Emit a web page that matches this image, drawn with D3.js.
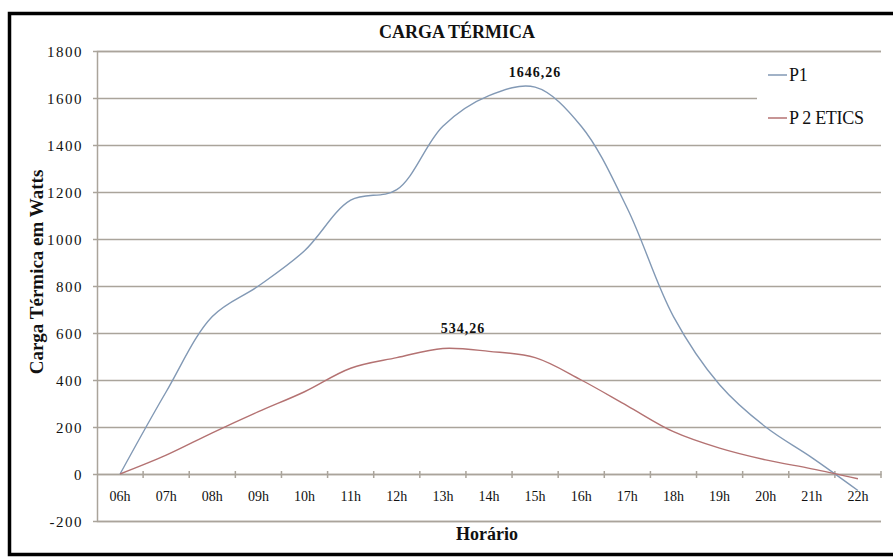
<!DOCTYPE html>
<html>
<head>
<meta charset="utf-8">
<script src="https://cdn.jsdelivr.net/npm/d3@7"></script>
<style>
  body { margin: 0; background: #fff; }
  svg text { font-family: "Liberation Serif", "Times New Roman", serif !important; fill: #111; }
</style>
</head>
<body>
<div id="chart"></div>
<script>
"use strict";

// categories (hours) and series values
const hours = ['06h', '07h', '08h', '09h', '10h', '11h', '12h', '13h', '14h',
  '15h', '16h', '17h', '18h', '19h', '20h', '21h', '22h'];

const p1Values = [0, 350, 670, 800, 950, 1165, 1210, 1480, 1610,
  1646.26, 1480, 1130, 670, 380, 200, 70, -70];

const p2Values = [0, 80, 175, 265, 350, 450, 495, 534.26, 522,
  495, 400, 290, 180, 110, 60, 22, -20];

const yTicks = [-200, 0, 200, 400, 600, 800, 1000, 1200, 1400, 1600, 1800];

const seriesNames = ['P1', 'P 2 ETICS'];
const seriesColors = ['#8299b5', '#b47272'];

const width = 893
    , height = 559
    , GRID = '#aaa49b'
    , SERIF = '"Liberation Serif", "Times New Roman", serif'

const svg = d3.select('#chart').append('svg')
    .attr('width', width)
    .attr('height', height)
    .attr('font-family', SERIF)

// outer frame
svg.append('rect')
  .attr('x', 9.5)
  .attr('y', 13.5)
  .attr('width', 900)
  .attr('height', 541)
  .attr('fill', '#fff')
  .attr('stroke', '#000')
  .attr('stroke-width', 3.5)

const xScale = d3.scaleBand()
  .domain(hours)
  .range([97, 881])

const yScale = d3.scaleLinear()
  .domain([-200, 1800])
  .range([521, 51])

const cx = h => xScale(h) + xScale.bandwidth() / 2

/*
 * Grid lines and y axis
 ***/
const yAxis = d3.axisLeft(yScale)
  .tickValues(yTicks)
  .tickSize(-(881 - 97))
  .tickPadding(14)
  .tickFormat(d => String(d))

const yG = svg.append('g')
  .attr('transform', 'translate(97,0)')
  .call(yAxis)
  .attr('font-family', SERIF)

yG.select('.domain').attr('stroke', GRID).attr('stroke-width', 1.5)
yG.selectAll('.tick line')
  .attr('x1', -4)
  .attr('stroke', GRID)
  .attr('stroke-width', 1.5)
yG.selectAll('.tick text')
  .style('font-size', '15px')
  .style('letter-spacing', '1.5px')
  .attr('dy', '0.35em')
  .attr('fill', '#222')

/*
 * Category axis, sitting on zero
 ***/
const xAxis = d3.axisBottom(xScale)
  .tickSize(0)
  .tickPadding(17)

const xG = svg.append('g')
  .attr('transform', `translate(0,${yScale(0)})`)
  .call(xAxis)
  .attr('font-family', SERIF)

xG.select('.domain').attr('stroke', GRID).attr('stroke-width', 1.5)
xG.selectAll('.tick text')
  .style('font-size', '14px')
  .attr('fill', '#222')

// tick marks between categories
xG.selectAll('line.sep')
  .data(hours)
  .enter().append('line')
  .attr('class', 'sep')
  .attr('x1', d => xScale(d) + xScale.bandwidth())
  .attr('x2', d => xScale(d) + xScale.bandwidth())
  .attr('y1', -3)
  .attr('y2', 4)
  .attr('stroke', GRID)
  .attr('stroke-width', 1.5)

/*
 * Legend (covers part of the top grid lines)
 ***/
const legend = svg.append('g')

legend.append('rect')
  .attr('x', 757)
  .attr('y', 58)
  .attr('width', 126)
  .attr('height', 78)
  .attr('fill', '#fff')

seriesNames.forEach((name, i) => {
  const y = 75 + i * 43
  legend.append('line')
    .attr('x1', 768)
    .attr('x2', 787)
    .attr('y1', y)
    .attr('y2', y)
    .attr('stroke', seriesColors[i])
    .attr('stroke-width', 1.5)
  legend.append('text')
    .attr('x', 789)
    .attr('y', y + 6)
    .style('font-size', '18px')
    .style('letter-spacing', '-0.3px')
    .text(name)
})

/*
 * Lines
 ***/
const line = d3.line()
  .x((d, i) => cx(hours[i]))
  .y(d => yScale(d))
  .curve(d3.curveCatmullRom.alpha(0.5))

svg.selectAll('path.series')
  .data([p1Values, p2Values])
  .enter().append('path')
  .attr('class', 'series')
  .attr('d', line)
  .attr('fill', 'none')
  .attr('stroke', (d, i) => seriesColors[i])
  .attr('stroke-width', 1.4)

/*
 * Max labels
 ***/
const maxLabels = [
  { values: p1Values, dx: 0, dy: -10 },
  { values: p2Values, dx: 20, dy: -15 }
]

svg.selectAll('text.maxlabel')
  .data(maxLabels)
  .enter().append('text')
  .attr('class', 'maxlabel')
  .attr('text-anchor', 'middle')
  .style('font-size', '14px')
  .style('font-weight', 'bold')
  .style('letter-spacing', '1px')
  .attr('x', d => cx(hours[d3.maxIndex(d.values)]) + d.dx)
  .attr('y', d => yScale(d3.max(d.values)) + d.dy)
  .text(d => d3.format('.2f')(d3.max(d.values)).replace('.', ','))

/*
 * Titles
 ***/
svg.append('text')
  .attr('x', 457)
  .attr('y', 38)
  .attr('text-anchor', 'middle')
  .style('font-size', '18px')
  .style('font-weight', 'bold')
  .text('CARGA TÉRMICA')

svg.append('text')
  .attr('transform', 'translate(43,272) rotate(-90)')
  .attr('text-anchor', 'middle')
  .style('font-size', '19px')
  .style('font-weight', 'bold')
  .text('Carga Térmica em Watts')

svg.append('text')
  .attr('x', 487)
  .attr('y', 540)
  .attr('text-anchor', 'middle')
  .style('font-size', '18px')
  .style('font-weight', 'bold')
  .text('Horário')
</script>
</body>
</html>
